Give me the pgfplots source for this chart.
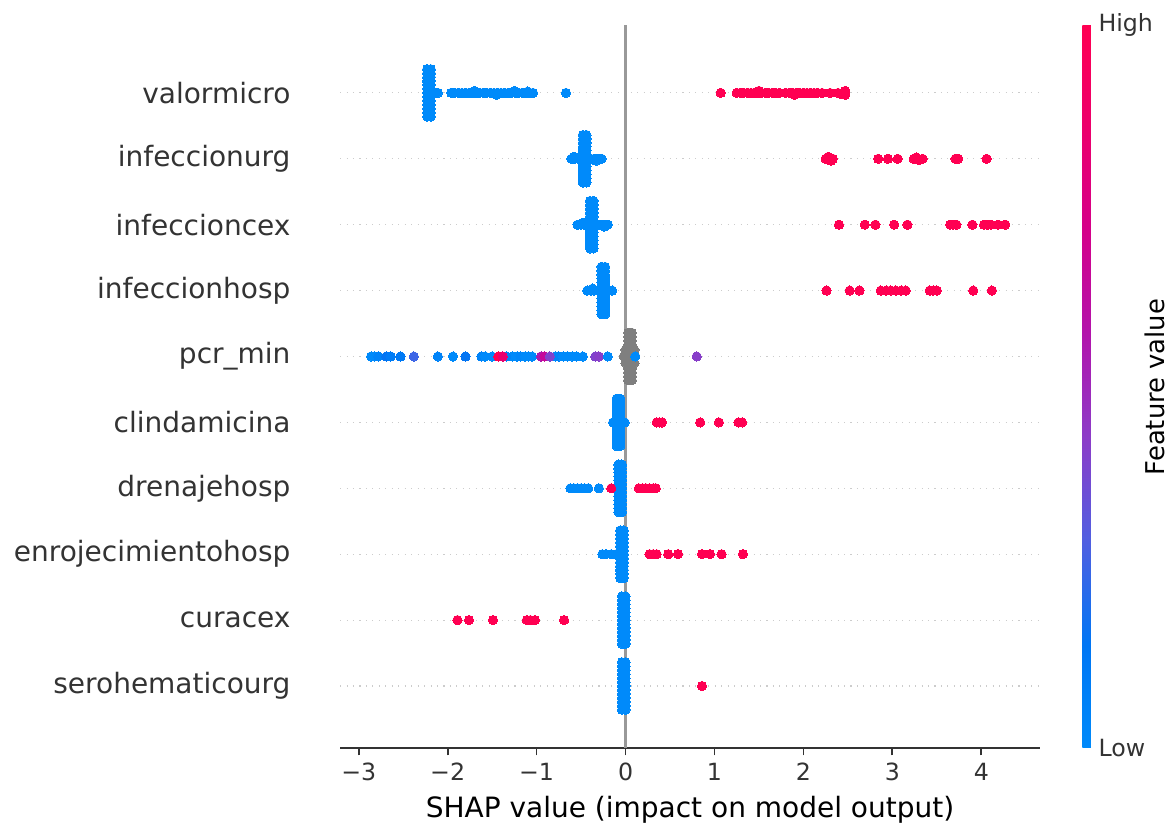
\documentclass[border=0pt]{standalone}
\usepackage{pgfplots}
\pgfplotsset{compat=1.18}
\usepackage{fontspec}
\setmainfont{DejaVu Sans}
\definecolor{axc}{HTML}{333333}
\definecolor{zeroc}{HTML}{999999}
\definecolor{gridc}{HTML}{CCCCCC}
\definecolor{nanc}{HTML}{7F7F7F}
\pgfplotsset{
  shapdots/.style={scatter, only marks, mark=*, mark size=2.15pt, point meta=explicit,
    scatter/use mapped color={draw=mapped color, fill=mapped color}, mark options={line width=0pt}},
}
\begin{document}
\begin{tikzpicture}
\useasboundingbox (-157.9pt,-34.8pt) rectangle (386.3pt,347.3pt);
\begin{axis}[
  at={(0pt,0pt)}, anchor=south west,
  scale only axis, width=325pt, height=335.7pt,
  xmin=-3.21, xmax=4.66, ymin=-0.94, ymax=10.03,
  axis lines*=left,
  x axis line style={draw=axc, line width=0.8pt},
  y axis line style={draw=none},
  xtick={-3,...,4},
  xticklabels={−3,−2,−1,0,1,2,3,4},
  xtick align=outside, xtick style={draw=axc, line width=0.8pt}, major tick length=3.5pt,
  xticklabel style={font=\fontsize{11}{13}\selectfont, text=axc},
  ytick={0,...,9},
  yticklabels={serohematicourg,curacex,enrojecimientohosp,drenajehosp,clindamicina,pcr\_min,infeccionhosp,infeccioncex,infeccionurg,valormicro},
  ytick style={draw=none},
  yticklabel style={font=\fontsize{13}{15}\selectfont, text=axc, xshift=-19.5pt},
  ymajorgrids, grid style={draw=gridc, line width=0.5pt, dash pattern=on 0.5pt off 2.5pt},
  xlabel={SHAP value (impact on model output)},
  xlabel style={font=\fontsize{13}{15}\selectfont, text=black},
  colormap={shap}{rgb255=(0,138,250) rgb255=(0,118,244) rgb255=(80,95,225) rgb255=(140,60,200) rgb255=(178,20,172) rgb255=(212,0,138) rgb255=(236,0,108) rgb255=(255,0,82)},
  point meta min=0, point meta max=1,
  colorbar,
  colorbar style={
    at={(parent axis.south east)}, anchor=south west, xshift=11.1pt,
    scale only axis, width=4pt, height=335.7pt,
    ytick={0,1}, yticklabels={Low,High},
    ytick style={draw=none},
    axis line style={draw=none},
    yticklabel style={font=\fontsize{11}{13}\selectfont, text=axc},
  },
]
\addplot[zeroc, line width=1.5pt] coordinates {(0,-0.94) (0,10.03)};
% valormicro
\addplot[shapdots] table[row sep=\\, meta=c] {x y c\\
-2.23 8.64 0\\ -2.23 8.70 0\\ -2.23 8.76 0\\ -2.23 8.82 0\\ -2.23 8.88 0\\ -2.23 8.94 0\\ -2.23 9.00 0\\ -2.23 9.06 0\\ -2.23 9.12 0\\ -2.23 9.18 0\\ -2.23 9.24 0\\ -2.23 9.30 0\\ -2.23 9.36 0\\
-2.19 8.64 0\\ -2.19 8.70 0\\ -2.19 8.76 0\\ -2.19 8.82 0\\ -2.19 8.88 0\\ -2.19 8.94 0\\ -2.19 9.00 0\\ -2.19 9.06 0\\ -2.19 9.12 0\\ -2.19 9.18 0\\ -2.19 9.24 0\\ -2.19 9.30 0\\ -2.19 9.36 0\\
-2.11 9 0\\ -1.96 9 0\\ -1.92 9 0\\ -1.88 9 0\\ -1.84 9 0\\ -1.80 9 0\\ -1.76 9 0\\ -1.72 9 0\\ -1.68 9 0\\ -1.64 9 0\\ -1.60 9 0\\ -1.56 9 0\\ -1.52 9 0\\ -1.48 9 0\\ -1.44 9 0\\ -1.40 9 0\\ -1.36 9 0\\ -1.32 9 0\\ -1.28 9 0\\ -1.24 9 0\\ -1.20 9 0\\ -1.16 9 0\\ -1.12 9 0\\ -1.08 9 0\\ -1.04 9 0\\
-1.70 9.03 0\\ -1.45 8.97 0\\ -1.25 9.03 0\\ -1.10 9.02 0\\ -0.67 9 0\\
1.07 9 1\\ 1.25 9 1\\ 1.29 9 1\\ 1.33 9 1\\ 1.37 9 1\\ 1.41 9 1\\ 1.45 9 1\\ 1.49 9 1\\ 1.53 9 1\\ 1.57 9 1\\ 1.61 9 1\\ 1.65 9 1\\ 1.69 9 1\\ 1.73 9 1\\ 1.80 9 1\\ 1.84 9 1\\ 1.88 9 1\\ 1.92 9 1\\ 1.96 9 1\\ 2.00 9 1\\ 2.04 9 1\\ 2.08 9 1\\ 2.12 9 1\\ 2.16 9 1\\ 2.21 9 1\\
1.50 9.03 1\\ 1.90 8.97 1\\ 2.30 9 1\\ 2.39 9 1\\ 2.43 8.98 1\\ 2.47 9.03 1\\ 2.47 8.97 1\\
};
% infeccionurg
\addplot[shapdots] table[row sep=\\, meta=c] {x y c\\
-0.48 7.64 0\\ -0.48 7.70 0\\ -0.48 7.76 0\\ -0.48 7.82 0\\ -0.48 7.88 0\\ -0.48 7.94 0\\ -0.48 8.00 0\\ -0.48 8.06 0\\ -0.48 8.12 0\\ -0.48 8.18 0\\ -0.48 8.24 0\\ -0.48 8.30 0\\ -0.48 8.36 0\\
-0.44 7.64 0\\ -0.44 7.70 0\\ -0.44 7.76 0\\ -0.44 7.82 0\\ -0.44 7.88 0\\ -0.44 7.94 0\\ -0.44 8.00 0\\ -0.44 8.06 0\\ -0.44 8.12 0\\ -0.44 8.18 0\\ -0.44 8.24 0\\ -0.44 8.30 0\\ -0.44 8.36 0\\
-0.61 8 0\\ -0.57 8 0\\ -0.53 8 0\\ -0.39 8 0\\ -0.35 8 0\\ -0.31 8 0\\ -0.27 8 0\\ -0.58 8.03 0\\ -0.33 7.97 0\\
2.25 8 1\\ 2.28 8.03 1\\ 2.31 7.97 1\\ 2.33 8 1\\ 2.84 8 1\\ 2.95 8 1\\ 3.06 8 1\\ 3.24 8 1\\ 3.27 8.02 1\\ 3.30 7.98 1\\ 3.34 8 1\\ 3.71 8 1\\ 3.74 8 1\\ 4.06 8 1\\
};
% infeccioncex
\addplot[shapdots] table[row sep=\\, meta=c] {x y c\\
-0.40 6.64 0\\ -0.40 6.70 0\\ -0.40 6.76 0\\ -0.40 6.82 0\\ -0.40 6.88 0\\ -0.40 6.94 0\\ -0.40 7.00 0\\ -0.40 7.06 0\\ -0.40 7.12 0\\ -0.40 7.18 0\\ -0.40 7.24 0\\ -0.40 7.30 0\\ -0.40 7.36 0\\
-0.36 6.64 0\\ -0.36 6.70 0\\ -0.36 6.76 0\\ -0.36 6.82 0\\ -0.36 6.88 0\\ -0.36 6.94 0\\ -0.36 7.00 0\\ -0.36 7.06 0\\ -0.36 7.12 0\\ -0.36 7.18 0\\ -0.36 7.24 0\\ -0.36 7.30 0\\ -0.36 7.36 0\\
-0.54 7 0\\ -0.50 7 0\\ -0.46 7 0\\ -0.30 7 0\\ -0.26 7 0\\ -0.22 7 0\\ -0.20 7 0\\ -0.48 7.03 0\\ -0.24 6.97 0\\
2.40 7 1\\ 2.69 7 1\\ 2.81 7 1\\ 3.02 7 1\\ 3.17 7 1\\ 3.65 7 1\\ 3.68 7 1\\ 3.72 7 1\\ 3.90 7 1\\ 4.03 7 1\\ 4.07 7 1\\ 4.11 7 1\\ 4.19 7 1\\ 4.27 7 1\\
};
% infeccionhosp
\addplot[shapdots] table[row sep=\\, meta=c] {x y c\\
-0.27 5.64 0\\ -0.27 5.70 0\\ -0.27 5.76 0\\ -0.27 5.82 0\\ -0.27 5.88 0\\ -0.27 5.94 0\\ -0.27 6.00 0\\ -0.27 6.06 0\\ -0.27 6.12 0\\ -0.27 6.18 0\\ -0.27 6.24 0\\ -0.27 6.30 0\\ -0.27 6.36 0\\
-0.23 5.64 0\\ -0.23 5.70 0\\ -0.23 5.76 0\\ -0.23 5.82 0\\ -0.23 5.88 0\\ -0.23 5.94 0\\ -0.23 6.00 0\\ -0.23 6.06 0\\ -0.23 6.12 0\\ -0.23 6.18 0\\ -0.23 6.24 0\\ -0.23 6.30 0\\ -0.23 6.36 0\\
-0.43 6 0\\ -0.39 6 0\\ -0.35 6 0\\ -0.31 6 0\\ -0.19 6 0\\ -0.15 6 0\\ -0.37 6.03 0\\
2.26 6 1\\ 2.52 6 1\\ 2.63 6 1\\ 2.87 6 1\\ 2.93 6 1\\ 2.98 6 1\\ 3.04 6 1\\ 3.10 6 1\\ 3.15 6 1\\ 3.42 6 1\\ 3.46 6 1\\ 3.50 6 1\\ 3.91 6 1\\ 4.12 6 1\\
};
% pcr_min gray (missing values)
\addplot[only marks, mark=*, mark size=2.15pt, mark options={draw=nanc, fill=nanc, line width=0pt}] table[row sep=\\] {x y\\
0.03 4.64\\ 0.03 4.70\\ 0.03 4.76\\ 0.03 4.82\\ 0.03 4.88\\ 0.03 4.94\\ 0.03 5.00\\ 0.03 5.06\\ 0.03 5.12\\ 0.03 5.18\\ 0.03 5.24\\ 0.03 5.30\\ 0.03 5.36\\
0.07 4.64\\ 0.07 4.70\\ 0.07 4.76\\ 0.07 4.82\\ 0.07 4.88\\ 0.07 4.94\\ 0.07 5.00\\ 0.07 5.06\\ 0.07 5.12\\ 0.07 5.18\\ 0.07 5.24\\ 0.07 5.30\\ 0.07 5.36\\
-0.02 5\\ 0.11 5\\ 0.00 4.9\\ 0.00 5.1\\ 0.10 4.9\\ 0.10 5.1\\
};
% pcr_min coloured
\addplot[shapdots] table[row sep=\\, meta=c] {x y c\\
-2.86 5 0\\ -2.82 5 0\\ -2.78 5 0.05\\ -2.69 5 0.15\\ -2.64 5 0.1\\ -2.53 5 0.12\\ -2.38 5 0.25\\ -2.11 5 0.05\\ -1.94 5 0\\ -1.80 5 0.15\\ -1.62 5 0.05\\ -1.58 5 0\\ -1.50 5 0\\
-1.27 5 0\\ -1.22 5 0\\ -1.18 5 0.03\\ -1.13 5 0\\ -1.09 5 0\\ -1.05 5 0\\ -1.34 5 0.05\\ -1.43 5 1\\ -1.38 5 0.85\\
-0.79 5 0\\ -0.75 5 0.05\\ -0.70 5 0\\ -0.65 5 0\\ -0.60 5 0\\ -0.55 5 0\\ -0.48 5 0\\ -0.95 5 0.55\\ -0.91 5 0.65\\ -0.85 5 0.4\\
-0.34 5 0.4\\ -0.30 5 0.42\\ -0.20 5 0\\ 0.11 5 0\\ 0.80 5 0.42\\
};
% clindamicina
\addplot[shapdots] table[row sep=\\, meta=c] {x y c\\
-0.10 3.64 0\\ -0.10 3.70 0\\ -0.10 3.76 0\\ -0.10 3.82 0\\ -0.10 3.88 0\\ -0.10 3.94 0\\ -0.10 4.00 0\\ -0.10 4.06 0\\ -0.10 4.12 0\\ -0.10 4.18 0\\ -0.10 4.24 0\\ -0.10 4.30 0\\ -0.10 4.36 0\\
-0.06 3.64 0\\ -0.06 3.70 0\\ -0.06 3.76 0\\ -0.06 3.82 0\\ -0.06 3.88 0\\ -0.06 3.94 0\\ -0.06 4.00 0\\ -0.06 4.06 0\\ -0.06 4.12 0\\ -0.06 4.18 0\\ -0.06 4.24 0\\ -0.06 4.30 0\\ -0.06 4.36 0\\
-0.14 4 0\\ -0.01 4 0\\
0.35 4 1\\ 0.38 4 1\\ 0.41 4 1\\ 0.84 4 1\\ 1.05 4 1\\ 1.27 4 1\\ 1.31 4 1\\
};
% drenajehosp
\addplot[shapdots] table[row sep=\\, meta=c] {x y c\\
-0.08 2.64 0\\ -0.08 2.70 0\\ -0.08 2.76 0\\ -0.08 2.82 0\\ -0.08 2.88 0\\ -0.08 2.94 0\\ -0.08 3.00 0\\ -0.08 3.06 0\\ -0.08 3.12 0\\ -0.08 3.18 0\\ -0.08 3.24 0\\ -0.08 3.30 0\\ -0.08 3.36 0\\
-0.04 2.64 0\\ -0.04 2.70 0\\ -0.04 2.76 0\\ -0.04 2.82 0\\ -0.04 2.88 0\\ -0.04 2.94 0\\ -0.04 3.00 0\\ -0.04 3.06 0\\ -0.04 3.12 0\\ -0.04 3.18 0\\ -0.04 3.24 0\\ -0.04 3.30 0\\ -0.04 3.36 0\\
-0.62 3 0\\ -0.58 3 0\\ -0.54 3 0\\ -0.50 3 0\\ -0.46 3 0\\ -0.42 3 0\\ -0.30 3 0\\
-0.16 3 1\\ 0.15 3 1\\ 0.19 3 1\\ 0.23 3 1\\ 0.27 3 1\\ 0.31 3 1\\ 0.34 3 1\\
};
% enrojecimientohosp
\addplot[shapdots] table[row sep=\\, meta=c] {x y c\\
-0.06 1.64 0\\ -0.06 1.70 0\\ -0.06 1.76 0\\ -0.06 1.82 0\\ -0.06 1.88 0\\ -0.06 1.94 0\\ -0.06 2.00 0\\ -0.06 2.06 0\\ -0.06 2.12 0\\ -0.06 2.18 0\\ -0.06 2.24 0\\ -0.06 2.30 0\\ -0.06 2.36 0\\
-0.02 1.64 0\\ -0.02 1.70 0\\ -0.02 1.76 0\\ -0.02 1.82 0\\ -0.02 1.88 0\\ -0.02 1.94 0\\ -0.02 2.00 0\\ -0.02 2.06 0\\ -0.02 2.12 0\\ -0.02 2.18 0\\ -0.02 2.24 0\\ -0.02 2.30 0\\ -0.02 2.36 0\\
-0.26 2 0\\ -0.22 2 0\\ -0.16 2 0\\ -0.10 2 0\\
0.27 2 1\\ 0.31 2 1\\ 0.35 2 1\\ 0.48 2 1\\ 0.59 2 1\\ 0.86 2 1\\ 0.95 2 1\\ 1.08 2 1\\ 1.32 2 1\\
};
% curacex
\addplot[shapdots] table[row sep=\\, meta=c] {x y c\\
-0.04 0.64 0\\ -0.04 0.70 0\\ -0.04 0.76 0\\ -0.04 0.82 0\\ -0.04 0.88 0\\ -0.04 0.94 0\\ -0.04 1.00 0\\ -0.04 1.06 0\\ -0.04 1.12 0\\ -0.04 1.18 0\\ -0.04 1.24 0\\ -0.04 1.30 0\\ -0.04 1.36 0\\
0.00 0.64 0\\ 0.00 0.70 0\\ 0.00 0.76 0\\ 0.00 0.82 0\\ 0.00 0.88 0\\ 0.00 0.94 0\\ 0.00 1.00 0\\ 0.00 1.06 0\\ 0.00 1.12 0\\ 0.00 1.18 0\\ 0.00 1.24 0\\ 0.00 1.30 0\\ 0.00 1.36 0\\
-1.89 1 1\\ -1.76 1 1\\ -1.49 1 1\\ -1.11 1 1\\ -1.07 1 1\\ -1.02 1 1\\ -0.69 1 1\\
};
% serohematicourg
\addplot[shapdots] table[row sep=\\, meta=c] {x y c\\
-0.04 -0.36 0\\ -0.04 -0.30 0\\ -0.04 -0.24 0\\ -0.04 -0.18 0\\ -0.04 -0.12 0\\ -0.04 -0.06 0\\ -0.04 0.00 0\\ -0.04 0.06 0\\ -0.04 0.12 0\\ -0.04 0.18 0\\ -0.04 0.24 0\\ -0.04 0.30 0\\ -0.04 0.36 0\\
0.00 -0.36 0\\ 0.00 -0.30 0\\ 0.00 -0.24 0\\ 0.00 -0.18 0\\ 0.00 -0.12 0\\ 0.00 -0.06 0\\ 0.00 0.00 0\\ 0.00 0.06 0\\ 0.00 0.12 0\\ 0.00 0.18 0\\ 0.00 0.24 0\\ 0.00 0.30 0\\ 0.00 0.36 0\\
0.86 0 1\\
};
\end{axis}
\node[rotate=90, font=\fontsize{12}{14}\selectfont, text=black] at (378.5pt,167.6pt) {Feature value};
\end{tikzpicture}
\end{document}
